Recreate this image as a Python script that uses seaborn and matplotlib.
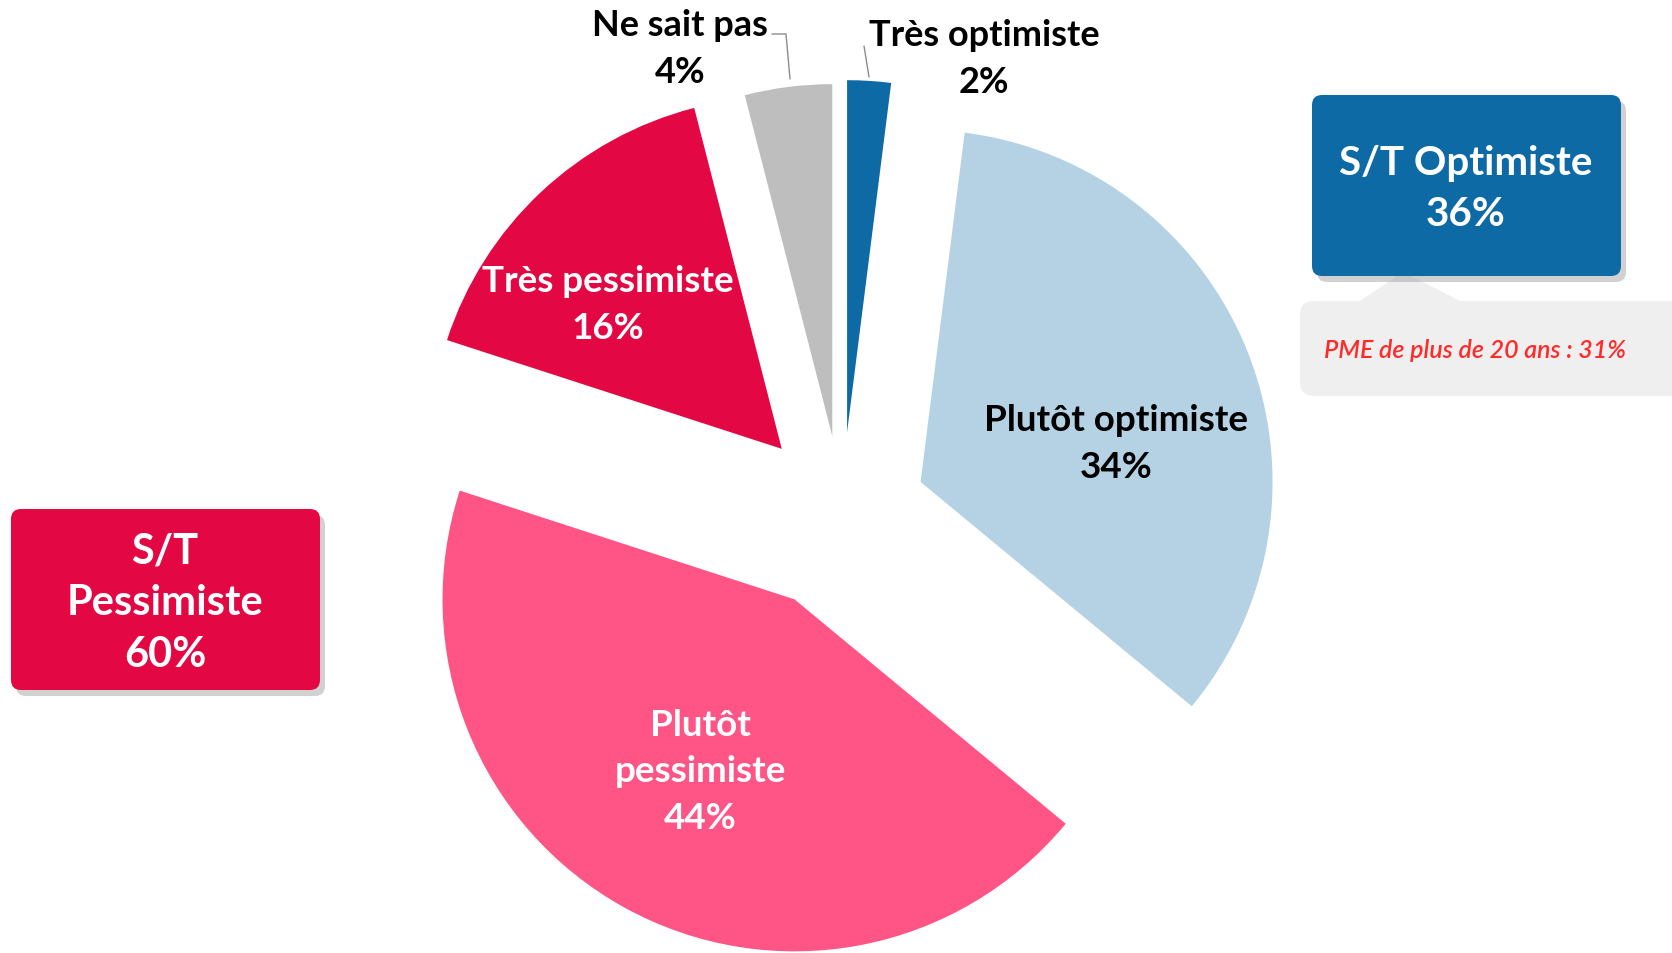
import matplotlib
matplotlib.use("Agg")
import matplotlib.pyplot as plt
import seaborn as sns
from matplotlib.patches import FancyBboxPatch, Polygon

# données
categories = ["Très optimiste", "Plutôt optimiste", "Plutôt pessimiste", "Très pessimiste", "Ne sait pas"]
values = [2, 34, 44, 16, 4]
colors = ["#0E6AA5", "#B5D2E4", "#FF5586", "#E30843", "#BEBEBE"]
explode = [0.23, 0.24, 0.28, 0.25, 0.22]

st_optimiste = 36
st_pessimiste = 60
pme_20ans = 31

sns.set_theme(style="white")
plt.rcParams['font.family'] = ['Lato', 'DejaVu Sans']

W, H = 1672, 954
R = 352
fig = plt.figure(figsize=(W / 100, H / 100), dpi=100)
ax = fig.add_axes([0, 0, 1, 1])

# l'écartement de matplotlib est en unités de données -> multiplié par le rayon
ax.pie(values, explode=[e * R for e in explode], colors=colors, startangle=90,
       counterclock=False, center=(842, H - 514), radius=R,
       wedgeprops=dict(linewidth=0))
ax.set_xlim(0, W)
ax.set_ylim(0, H)
ax.set_aspect('equal')
ax.axis('off')


def txt(x, y, s, **kw):
    # y est mesuré depuis le haut
    opts = dict(ha='center', va='center', fontweight='bold', linespacing=1.5)
    opts.update(kw)
    ax.text(x, H - y, s, **opts)


# étiquettes dans les secteurs
txt(1116, 444, f"{categories[1]}\n{values[1]}%", fontsize=26.5, color='black')
txt(700, 772, f"Plutôt\npessimiste\n{values[2]}%", fontsize=26.5, color='white')
txt(608, 305, f"{categories[3]}\n{values[3]}%", fontsize=26.5, color='white')

# étiquettes extérieures + traits de rappel
txt(680, 49, f"{categories[4]}\n{values[4]}%", fontsize=26, color='black')
txt(984, 59, f"{categories[0]}\n{values[0]}%", fontsize=26, color='black')
ax.plot([772, 786, 790], [H - 35, H - 35, H - 80], color='#8C8C8C', lw=1)
ax.plot([864, 869], [H - 47, H - 78], color='#8C8C8C', lw=1)


def box(x0, y0, x1, y1, color):
    ax.add_patch(FancyBboxPatch((x0 + 5, H - y1 - 6), x1 - x0, y1 - y0,
                                boxstyle="round,pad=0,rounding_size=10",
                                fc='#9A9A9A', ec='none', alpha=0.45, zorder=3))
    ax.add_patch(FancyBboxPatch((x0, H - y1), x1 - x0, y1 - y0,
                                boxstyle="round,pad=0,rounding_size=10",
                                fc=color, ec='none', zorder=4))


# encadré S/T Optimiste + bulle
ax.add_patch(FancyBboxPatch((1300, H - 397), 400, 95,
                            boxstyle="round,pad=0,rounding_size=14",
                            fc='#EFEFEF', ec='none', zorder=2))
ax.add_patch(Polygon([[1360, H - 302], [1403, H - 273], [1460, H - 302]],
                     closed=True, fc='#EFEFEF', ec='none', zorder=2))
box(1312, 96, 1621, 277, colors[0])
txt(1466, 189, f"S/T Optimiste\n{st_optimiste}%", fontsize=29, color='white',
    linespacing=1.45, zorder=5)
txt(1475, 350, f"PME de plus de 20 ans : {pme_20ans}%", fontsize=18, color='#FF2A2A',
    style='italic', fontweight='semibold', zorder=5)

# encadré S/T Pessimiste
box(11, 510, 320, 691, colors[3])
txt(165, 603, f"S/T\nPessimiste\n{st_pessimiste}%", fontsize=30, color='white',
    linespacing=1.45, zorder=5)

fig.savefig("out.png", dpi=100)
